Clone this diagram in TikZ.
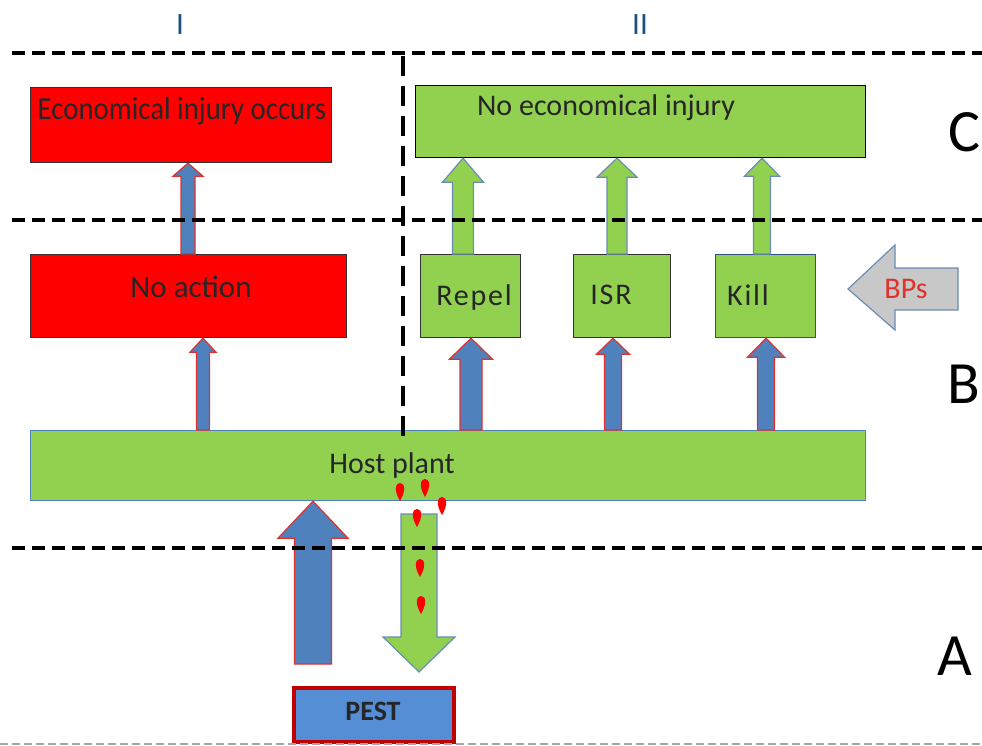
\documentclass[tikz,border=0pt]{standalone}
\usepackage{fontspec}
\setmainfont{Carlito}
\usepackage{graphicx}
\usepackage{tikz}

\definecolor{boxred}{HTML}{FF0000}
\definecolor{leafgreen}{HTML}{92D050}
\definecolor{pestblue}{HTML}{558ED5}
\definecolor{arrowblue}{HTML}{4F81BD}
\definecolor{rimred}{HTML}{E0312C}
\definecolor{darkred}{HTML}{C00000}
\definecolor{greyblue}{HTML}{6A8DB5}
\definecolor{killblue}{HTML}{2F4F8F}
\definecolor{romangrey}{HTML}{1F4E79}
\definecolor{bpgrey}{HTML}{C8C8C8}

% block arrow: style, x, tail, tip, shaft width, head width, head length
\newcommand{\blockarrow}[7]{%
  \draw[#1] let \p1=(#3), \p2=(#4), \n1={#5/2}, \n2={#6/2},
      \n3={ifthenelse(\y2>\y1,-#7,#7)} in
    ({#2-\n1},\y1) -- ({#2-\n1},{\y2+\n3}) -- ({#2-\n2},{\y2+\n3}) -- (#2,\y2)
    -- ({#2+\n2},{\y2+\n3}) -- ({#2+\n1},{\y2+\n3}) -- ({#2+\n1},\y1) -- cycle;}

\usetikzlibrary{calc}

\begin{document}
\begin{tikzpicture}[x=1pt, y=-1pt,
  box/.style={draw=black!80, line width=1.2pt, inner sep=0pt, anchor=north west},
  redbox/.style={box, fill=boxred},
  greenbox/.style={box, fill=leafgreen},
  boxtext/.style={anchor=base, inner sep=0pt, text=black!85, font=\fontsize{30}{32}\selectfont},
  smalltext/.style={boxtext, font=\fontsize{30}{32}\selectfont\addfontfeature{LetterSpace=6}},
  bluearrow/.style={fill=arrowblue, draw=rimred, line width=1.2pt},
  greenarrow/.style={fill=leafgreen, draw=greyblue, line width=1.2pt},
  sepline/.style={black, line width=3.5pt, dash pattern=on 13pt off 7pt},
  zoneletter/.style={anchor=base, inner sep=0pt, font=\fontsize{60}{62}\selectfont},
  drop/.style={fill=red}]
\useasboundingbox (0,0) rectangle (982,746);

% columns and zones
\node[anchor=base, text=romangrey, font=\fontsize{31}{33}\selectfont] (colI) at (180,35) {I};
\node[anchor=base, text=romangrey, font=\fontsize{31}{33}\selectfont] (colII) at (640,35) {II};
\node[zoneletter] (zoneC) at (964,152) {C};
\node[zoneletter] (zoneB) at (964,403) {B};
\node[zoneletter] (zoneA) at (955,675) {A};

% boxes
\node[redbox, minimum width=301, minimum height=75] (econ) at (30,87) {};
\node[boxtext, font=\fontsize{32}{34}\selectfont] (econtxt) at (182,120) {\scalebox{0.9}[1]{Economical injury occurs}};
\node[greenbox, draw=black, minimum width=450, minimum height=72] (noeco) at (415,85) {};
\node[boxtext] (noecotxt) at (606,116) {No economical injury};
\node[redbox, minimum width=316, minimum height=83] (noact) at (30,254) {};
\node[boxtext, font=\fontsize{31}{33}\selectfont] (noacttxt) at (191,297) {No action};
\node[greenbox, minimum width=100, minimum height=83] (repel) at (420,254) {};
\node[smalltext] (repeltxt) at (474,305) {Repel};
\node[greenbox, minimum width=97, minimum height=83] (isr) at (573,254) {};
\node[smalltext] (isrtxt) at (611,304) {ISR};
\node[greenbox, draw=killblue, minimum width=100, minimum height=83] (kill) at (715,254) {};
\node[smalltext] (killtxt) at (748,305) {Kill};
\node[greenbox, draw=arrowblue, minimum width=835, minimum height=70] (host) at (30,430) {};
\node[boxtext] (hosttxt) at (392,473) {Host plant};
\node[box, draw=darkred, line width=4pt, fill=pestblue, minimum width=160, minimum height=54] (pest) at (292,686) {};
\node[boxtext, font=\fontsize{28}{30}\selectfont\bfseries] (pesttxt) at (373,720) {PEST};

% BPs arrow
\draw[fill=bpgrey, draw=greyblue, line width=1.2pt] (848,289) -- (895,245) -- (895,268) -- (958,268)
  -- (958,310) -- (895,310) -- (895,330) -- cycle;
\node[boxtext, text=rimred, font=\fontsize{30}{32}\selectfont] (bps) at (906,298) {BPs};

% free ends
\coordinate (pestfoot) at (313,664);
\coordinate (rootdrop) at (419,514);
\coordinate (pestmouth) at (419,672);

% arrows
\blockarrow{bluearrow}{188}{noact.north}{econ.south}{14}{30}{13}
\blockarrow{bluearrow}{203}{host.north}{noact.south}{13}{26}{14}
\blockarrow{bluearrow}{471}{host.north}{repel.south}{22}{43}{21}
\blockarrow{bluearrow}{613}{host.north}{isr.south}{17}{33}{16}
\blockarrow{bluearrow}{766}{host.north}{kill.south}{17}{37}{19}
\blockarrow{greenarrow}{463}{repel.north}{noeco.south}{21}{41}{24}
\blockarrow{greenarrow}{617}{isr.north}{noeco.south}{20}{40}{19}
\blockarrow{greenarrow}{762}{kill.north}{noeco.south}{17}{35}{18}
\blockarrow{bluearrow}{313}{pestfoot}{host.south}{37}{70}{37}
\blockarrow{greenarrow}{419}{rootdrop}{pestmouth}{36}{72}{35}

% drops
\foreach \dx/\dy in {400/492, 425/488, 442/506, 417/518, 420/568, 421/605}
  \fill[drop] (\dx,\dy+9) .. controls (\dx-6,\dy-1) and (\dx-5,\dy-9) .. (\dx,\dy-9)
    .. controls (\dx+5,\dy-9) and (\dx+6,\dy-1) .. (\dx,\dy+9);

% dashed separators
\foreach \yy in {53,220,548}
  \draw[sepline] (12,\yy) -- (982,\yy);
\draw[sepline, dash pattern=on 20pt off 10pt] (403,56) -- (403,443);
\draw[gray!70, line width=1.5pt, dash pattern=on 8pt off 4pt] (0,744) -- (982,744);
\end{tikzpicture}
\end{document}
